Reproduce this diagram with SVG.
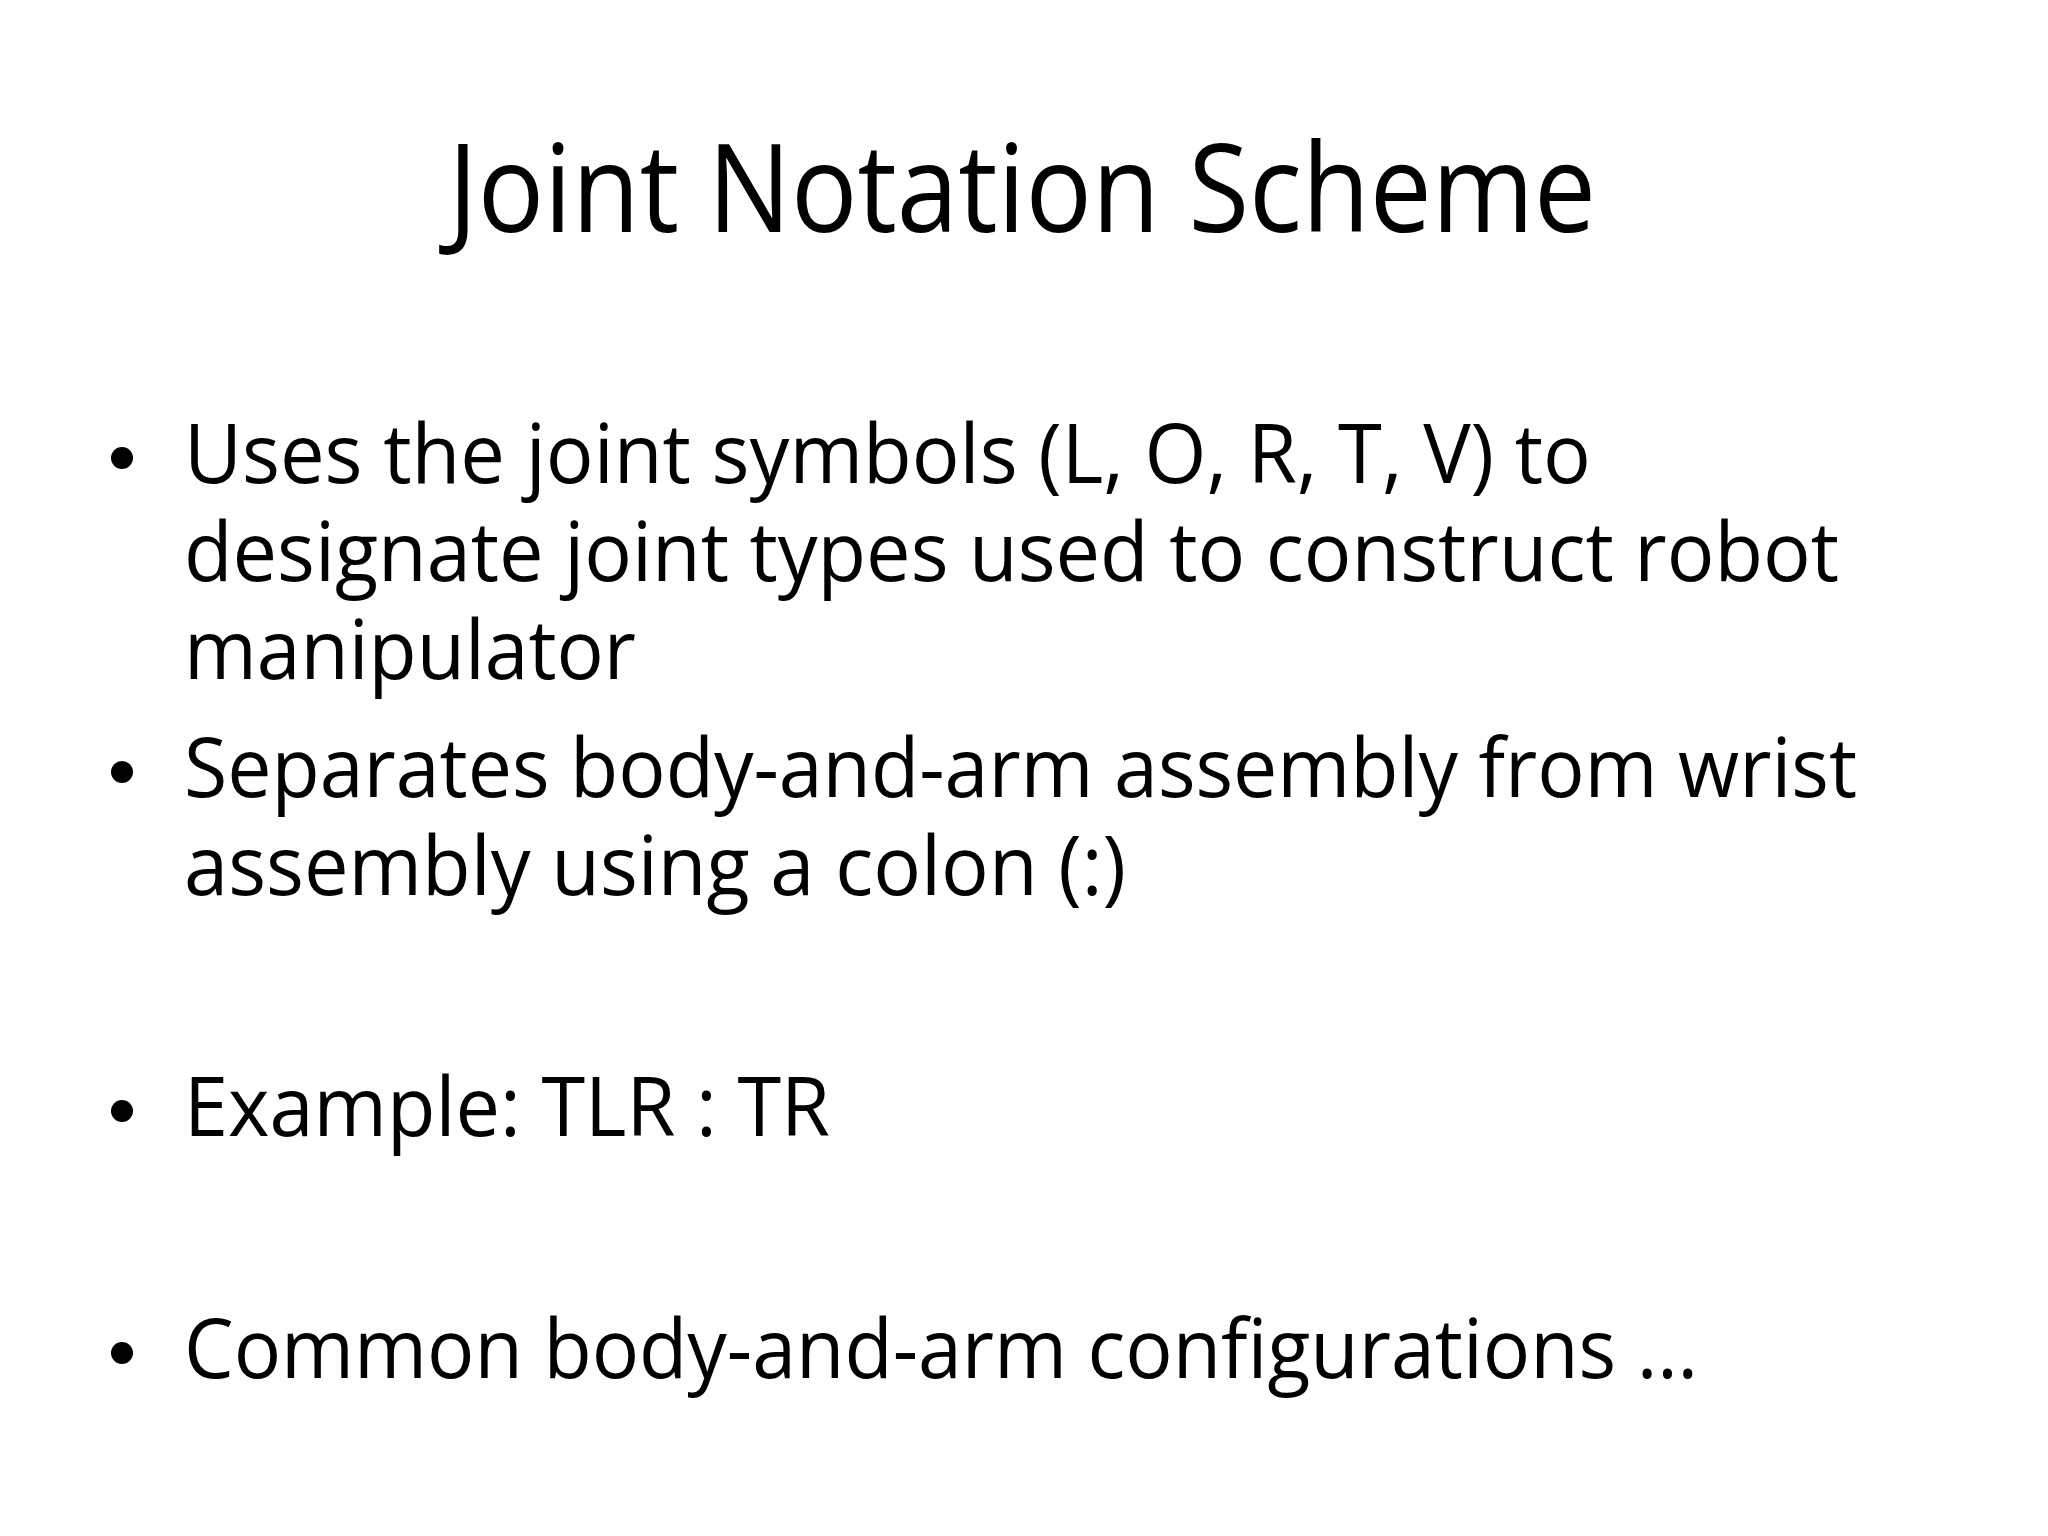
<svg xmlns="http://www.w3.org/2000/svg" width="2048" height="1536" viewBox="0 0 2048 1536">
<style>
text{font-family:"Open Sans","Liberation Sans",sans-serif;fill:#000}
.t{font-size:122px}
.b{font-size:82px}
</style>
<rect width="2048" height="1536" fill="#fff"/>
<text class="t" x="448" y="232" textLength="1148" lengthAdjust="spacingAndGlyphs">Joint Notation Scheme</text>
<g id="bullets">
<circle cx="122" cy="458" r="11"/>
<circle cx="122" cy="772" r="11"/>
<circle cx="122" cy="1111" r="11"/>
<circle cx="122" cy="1353" r="11"/>
</g>
<g id="body">
<text class="b" x="184" y="483" textLength="1407" lengthAdjust="spacingAndGlyphs">Uses the joint symbols (L, O, R, T, V) to</text>
<text class="b" x="184" y="581" textLength="1655" lengthAdjust="spacingAndGlyphs">designate joint types used to construct robot</text>
<text class="b" x="184" y="679" textLength="452" lengthAdjust="spacingAndGlyphs">manipulator</text>
<text class="b" x="184" y="797" textLength="1673" lengthAdjust="spacingAndGlyphs">Separates body-and-arm assembly from wrist</text>
<text class="b" x="184" y="895" textLength="942" lengthAdjust="spacingAndGlyphs">assembly using a colon (:)</text>
<text class="b" x="184" y="1136" textLength="646" lengthAdjust="spacingAndGlyphs">Example: TLR : TR</text>
<text class="b" x="184" y="1378" textLength="1514" lengthAdjust="spacingAndGlyphs">Common body-and-arm configurations …</text>
</g>
</svg>
